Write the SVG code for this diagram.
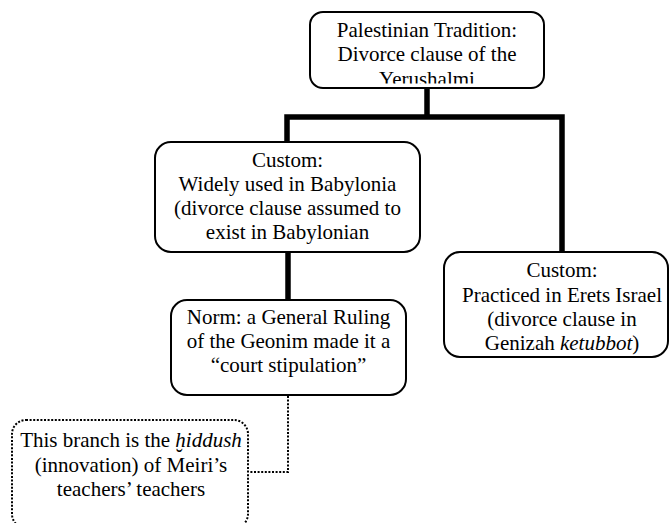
<svg xmlns="http://www.w3.org/2000/svg" width="670" height="523" viewBox="0 0 670 523">
<style>
.box{fill:#fff;stroke:#000;stroke-width:2}
.dbox{fill:none;stroke:#000;stroke-width:2;stroke-dasharray:2 1.6}
.t{font-family:"Liberation Serif","Times New Roman",serif;font-size:21px;fill:#000;text-anchor:middle}
.i{font-style:italic}
.thick{fill:none;stroke:#000;stroke-width:5.5}
.dot{fill:none;stroke:#000;stroke-width:2;stroke-dasharray:2 1.6}
</style>
<defs>
<clipPath id="c1"><rect x="310" y="12" width="234" height="71.5"/></clipPath>
</defs>
<rect width="670" height="523" fill="#fff"/>
<g id="connectors">
<path class="thick" d="M427 88 V117 M287 142 V117 H562 V252"/>
<path class="thick" d="M288 252 V300"/>
<path class="dot" d="M288 396 V472 H249"/>
</g>
<g id="palestinian">
<rect class="box" x="310" y="12" width="234" height="76" rx="13"/>
<g clip-path="url(#c1)">
<text class="t" x="427" y="36.7">Palestinian Tradition:</text>
<text class="t" x="427" y="61">Divorce clause of the</text>
<text class="t" x="427" y="85.5">Yerushalmi</text>
</g>
</g>
<g id="babylonia">
<rect class="box" x="155" y="142" width="265" height="110" rx="16"/>
<text class="t" x="287.5" y="166.7">Custom:</text>
<text class="t" x="287.5" y="191">Widely used in Babylonia</text>
<text class="t" x="287.5" y="215">(divorce clause assumed to</text>
<text class="t" x="287.5" y="239.3">exist in Babylonian</text>
</g>
<g id="erets">
<rect class="box" x="444" y="252" width="224" height="105" rx="16"/>
<text class="t" x="562" y="277.3">Custom:</text>
<text class="t" x="562" y="301.6">Practiced in Erets Israel</text>
<text class="t" x="562" y="326">(divorce clause in</text>
<text class="t" x="562" y="350.3">Genizah <tspan class="i">ketubbot</tspan>)</text>
</g>
<g id="norm">
<rect class="box" x="171" y="300" width="235" height="95" rx="16"/>
<text class="t" x="288.5" y="323.5">Norm: a General Ruling</text>
<text class="t" x="288.5" y="347.7">of the Geonim made it a</text>
<text class="t" x="288.5" y="372">“court stipulation”</text>
</g>
<g id="hiddush">
<rect class="dbox" x="12" y="420" width="236" height="108" rx="14"/>
<text class="t" x="131" y="446.7">This branch is the <tspan class="i">ḫiddush</tspan></text>
<text class="t" x="131" y="471.5">(innovation) of Meiri’s</text>
<text class="t" x="131" y="496">teachers’ teachers</text>
</g>
</svg>
